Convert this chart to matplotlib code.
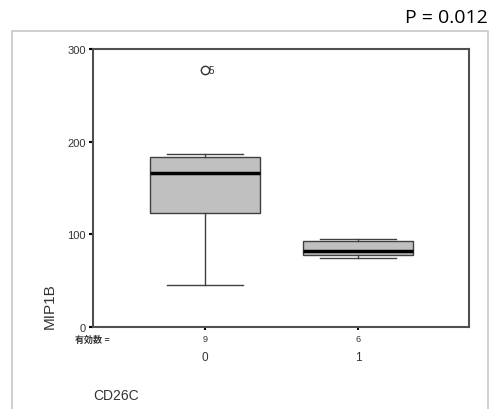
import matplotlib
matplotlib.use("Agg")
import matplotlib.pyplot as plt
from matplotlib.patches import Rectangle

plt.rcParams["font.family"] = ["Liberation Sans", "Noto Sans CJK JP", "DejaVu Sans"]

# CD26C groups, MIP1B box stats
CATS = ["0", "1"]
COUNTS = [9, 6]
WHISLO = [45, 75]
Q1 = [123, 78]
MED = [166, 82]
Q3 = [183, 93]
WHISHI = [187, 95]
FLIERS = [[277], []]
FLIER_IDS = [["5"], []]

stats = []
for i in range(len(CATS)):
    stats.append(dict(whislo=WHISLO[i], q1=Q1[i], med=MED[i], q3=Q3[i],
                      whishi=WHISHI[i], fliers=FLIERS[i], label=CATS[i]))

fig = plt.figure(figsize=(4.92, 4.10), dpi=100)
fig.patch.set_facecolor("white")

# outer light grey frame
fig.add_artist(Rectangle((12 / 492, -0.01), 476 / 492, 378 / 410 + 0.01,
                         transform=fig.transFigure, fill=False,
                         edgecolor="#c8c8c8", linewidth=1.2))

ax = fig.add_axes([93 / 492, 82 / 410, 376 / 492, 278 / 410])
pos = list(range(1, len(CATS) + 1))
ax.bxp(stats, positions=pos, widths=0.72, patch_artist=True, capwidths=0.5,
       boxprops=dict(facecolor="#c0c0c0", edgecolor="#404040", linewidth=1),
       medianprops=dict(color="black", linewidth=2.5),
       whiskerprops=dict(color="#404040", linewidth=1),
       capprops=dict(color="#404040", linewidth=1),
       flierprops=dict(marker="o", markerfacecolor="none",
                       markeredgecolor="#303030", markersize=6))

for p, fl, ids in zip(pos, FLIERS, FLIER_IDS):
    for v, lab in zip(fl, ids):
        ax.text(p + 0.025, v, lab, fontsize=7, va="center", ha="left",
                color="#303030")

ax.set_xlim(0.268, 2.725)
ax.set_ylim(0, 300)
ax.set_yticks([0, 100, 200, 300])
ax.set_xticks(pos)
ax.set_xticklabels([])
ax.tick_params(axis="y", length=3, width=1.5, labelsize=8,
               labelcolor="#333333", pad=2)
ax.tick_params(axis="x", length=2, width=1.5)
for s in ax.spines.values():
    s.set_color("#505050")
    s.set_linewidth(1.5)

tr = ax.get_xaxis_transform()
for p, c, n in zip(pos, CATS, COUNTS):
    ax.text(p, -0.04, str(n), transform=tr, ha="center", va="center",
            fontsize=6.5, color="#333333")
    ax.text(p, -0.108, c, transform=tr, ha="center", va="center",
            fontsize=8.5, color="#333333")
ax.text(-0.048, -0.045, "有効数 =", transform=ax.transAxes, ha="left",
        va="center", fontsize=6.5, color="#333333", fontweight="bold")

fig.text(50 / 492, 104 / 410, "MIP1B", rotation=90,
         ha="center", va="center", fontsize=11, color="#333333")
fig.text(93 / 492, 14 / 410, "CD26C", ha="left", va="center",
         fontsize=10, color="#333333")
fig.text(488 / 492, 392 / 410, "P = 0.012", ha="right", va="center",
         fontsize=14, color="black", family=["Open Sans", "DejaVu Sans"])

fig.savefig("out.png", dpi=100, facecolor="white")
